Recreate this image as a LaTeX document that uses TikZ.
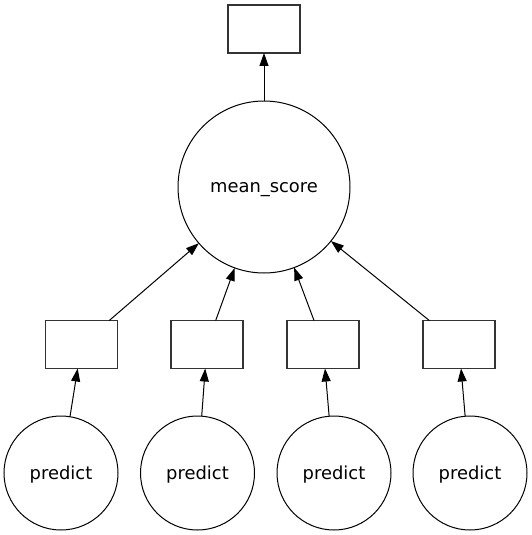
\documentclass[tikz,border=0pt]{standalone}
\usepackage{fontspec}
\setmainfont{DejaVu Sans}
\usetikzlibrary{arrows.meta}
\begin{document}
\begin{tikzpicture}[x=1pt,y=-1pt,
  every node/.style={font=\fontsize{17.9}{20}\selectfont},
  task/.style={circle,draw,line width=1pt,inner sep=0pt,outer sep=0pt},
  databox/.style={rectangle,draw=black!80,line width=1.1pt,minimum width=72pt,minimum height=48pt,inner sep=0pt,outer sep=0pt},
  dep/.style={line width=1pt,-{Triangle[length=13pt,width=9pt]}}]
\useasboundingbox (0,0) rectangle (531,535);
\node[databox] (top) at (264,29) {};
\node[task,minimum size=172pt,text height=10pt,text depth=0pt] (mean) at (264,187) {mean\_score};
\node[databox] (b1) at (81.5,344.5) {};
\node[databox] (b2) at (207,344.5) {};
\node[databox] (b3) at (323,344.5) {};
\node[databox] (b4) at (459,344.5) {};
\tikzset{pred/.style={task,minimum size=114pt,text height=14pt,text depth=1.1pt}}
\node[pred] (p1) at (61,473) {predict};
\node[pred] (p2) at (197.5,473) {predict};
\node[pred] (p3) at (334,473) {predict};
\node[pred] (p4) at (470,473) {predict};
\draw[dep] (mean) -- (top);
\draw[dep] (b1) -- (mean);
\draw[dep] (b2) -- (mean);
\draw[dep] (b3) -- (mean);
\draw[dep] (b4) -- (mean);
\draw[dep] (p1) -- (b1);
\draw[dep] (p2) -- (b2);
\draw[dep] (p3) -- (b3);
\draw[dep] (p4) -- (b4);
\end{tikzpicture}
\end{document}
